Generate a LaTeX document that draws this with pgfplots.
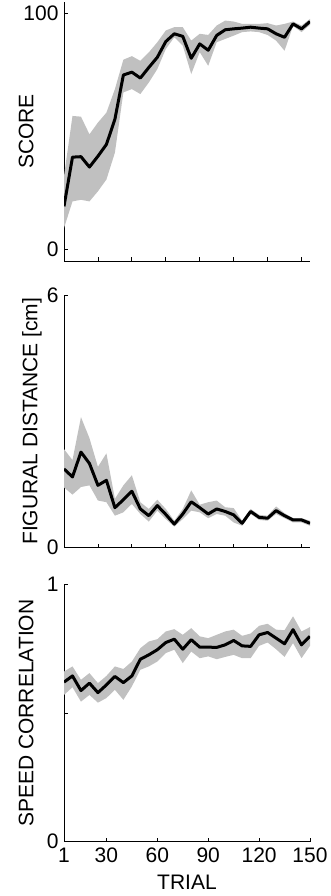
\documentclass[border=0pt]{standalone}
\usepackage{fontspec}
\setmainfont{Liberation Sans}
\usepackage{pgfplots}
\usepgfplotslibrary{fillbetween}
\pgfplotsset{compat=1.18}
\usepackage{pgfplotstable}
\definecolor{bandgray}{RGB}{192,192,192}

\pgfplotstableread{
x mean lo hi
5 18.2 9 31
10 39.1 20.3 56.6
15 39.3 21 56.3
20 34.9 20.3 48.8
25 39.5 24.6 53.8
30 44.5 29.6 58
35 55.2 41 68
40 74 66.6 80.5
45 75.2 68 82
50 72.7 65.9 80
55 77.2 70.8 83.6
60 81.5 76.5 87.9
65 88.2 85 92.9
70 91.5 90 94.3
75 90.4 86.5 94.3
80 81.1 74.4 88.6
85 87.2 83.7 91.5
90 84.5 77.9 91
95 90.8 87.9 95
100 93.2 89.3 97.1
105 93.6 90.7 96.7
110 93.9 92.2 95.7
115 94.3 92.5 95.7
120 93.9 92.2 95.7
125 93.6 91 96
130 91.5 88.6 95
135 90 84.3 95.7
140 95.7 94.8 96.7
145 93.6 92.2 95
150 96.7 95.3 97.8
}\dataA

\pgfplotstableread{
x mean lo hi
5 1.87 1.43 2.34
10 1.68 1.26 2.08
15 2.27 1.44 3.10
20 2.00 1.48 2.60
25 1.48 1.12 1.92
30 1.60 1.08 2.24
35 0.95 0.76 1.16
40 1.14 0.84 1.48
45 1.34 1.04 1.72
50 0.92 0.80 1.08
55 0.76 0.62 0.92
60 1.00 0.88 1.14
65 0.79 0.68 0.92
70 0.56 0.50 0.64
75 0.80 0.68 0.92
80 1.09 0.88 1.36
85 0.95 0.84 1.02
90 0.80 0.70 1.08
95 0.92 0.80 1.12
100 0.86 0.76 0.96
105 0.78 0.60 0.94
110 0.58 0.52 0.64
115 0.86 0.80 0.92
120 0.72 0.66 0.78
125 0.70 0.64 0.76
130 0.88 0.80 0.98
135 0.76 0.70 0.82
140 0.66 0.60 0.70
145 0.66 0.60 0.70
150 0.58 0.52 0.64
}\dataB

\pgfplotstableread{
x mean lo hi
5 0.621 0.571 0.662
10 0.645 0.601 0.682
15 0.588 0.545 0.630
20 0.617 0.571 0.656
25 0.580 0.541 0.617
30 0.610 0.559 0.645
35 0.643 0.591 0.682
40 0.619 0.552 0.672
45 0.645 0.604 0.701
50 0.710 0.669 0.753
55 0.727 0.682 0.779
60 0.747 0.701 0.788
65 0.775 0.734 0.818
70 0.788 0.747 0.827
75 0.749 0.695 0.805
80 0.786 0.740 0.831
85 0.757 0.714 0.799
90 0.757 0.721 0.792
95 0.756 0.710 0.805
100 0.766 0.719 0.818
105 0.783 0.727 0.825
110 0.762 0.714 0.801
115 0.760 0.714 0.810
120 0.805 0.762 0.840
125 0.814 0.775 0.848
130 0.792 0.749 0.825
135 0.770 0.719 0.823
140 0.825 0.773 0.877
145 0.766 0.714 0.818
150 0.799 0.762 0.835
}\dataC

\pgfplotsset{
  panel/.style={
    scale only axis,
    width=246pt,
    xmin=5, xmax=150,
    axis x line*=bottom,
    axis y line*=left,
    every outer x axis line/.append style={-},
    every outer y axis line/.append style={-},
    axis line style={-, black, line width=0.8pt},
    tick align=inside,
    major tick length=3.5pt,
    tick style={black, line width=0.8pt},
    tick label style={font=\fontsize{21}{25}\selectfont},
    yticklabel style={xshift=-2pt},
    xticklabel style={yshift=-3pt},
    label style={font=\fontsize{21}{25}\selectfont},
  },
  meanline/.style={black, line width=3pt, line join=round},
}

\begin{document}
\begin{tikzpicture}
\path (0pt,0pt) rectangle (331pt,896pt);

% Panel 1
\begin{axis}[panel,
  at={(64pt,635pt)}, anchor=south west,
  height=259pt,
  ymin=-5, ymax=105,
  ytick={0,100}, yticklabels={0,100},
  xtick={25,45,65,85,105,125,145}, xticklabels={},
  ylabel={SCORE},
  ylabel style={at={(axis description cs:-0.1248,0.5)}, anchor=base},
]
\addplot[draw=none, name path=hiA] table[x=x, y=hi] {\dataA};
\addplot[draw=none, name path=loA] table[x=x, y=lo] {\dataA};
\addplot[bandgray, draw=none] fill between[of=hiA and loA];
\addplot[meanline] table[x=x, y=mean] {\dataA};
\end{axis}

% Panel 2
\begin{axis}[panel,
  at={(64pt,348.3pt)}, anchor=south west,
  height=252.7pt,
  ymin=0, ymax=6,
  ytick={0,6}, yticklabels={0,6},
  xtick={25,45,65,85,105,125,145}, xticklabels={},
  ylabel={FIGURAL DISTANCE [cm]},
  ylabel style={at={(axis description cs:-0.1085,0.5)}, anchor=base},
]
\addplot[draw=none, name path=hiB] table[x=x, y=hi] {\dataB};
\addplot[draw=none, name path=loB] table[x=x, y=lo] {\dataB};
\addplot[bandgray, draw=none] fill between[of=hiB and loB];
\addplot[meanline] table[x=x, y=mean] {\dataB};
\end{axis}

% Panel 3
\begin{axis}[panel,
  at={(64pt,54.3pt)}, anchor=south west,
  height=257pt,
  ymin=0, ymax=1,
  ytick={0,0.5,1}, yticklabels={0,,1},
  xtick={5,30,60,90,120,150}, xticklabels={1,30,60,90,120,150},
  ylabel={SPEED CORRELATION},
  ylabel style={at={(axis description cs:-0.1248,0.5)}, anchor=base},
  xlabel={TRIAL},
  xlabel style={at={(axis description cs:0.5,-0.185)}, anchor=base},
]
\addplot[draw=none, name path=hiC] table[x=x, y=hi] {\dataC};
\addplot[draw=none, name path=loC] table[x=x, y=lo] {\dataC};
\addplot[bandgray, draw=none] fill between[of=hiC and loC];
\addplot[meanline] table[x=x, y=mean] {\dataC};
\end{axis}
\end{tikzpicture}
\end{document}
